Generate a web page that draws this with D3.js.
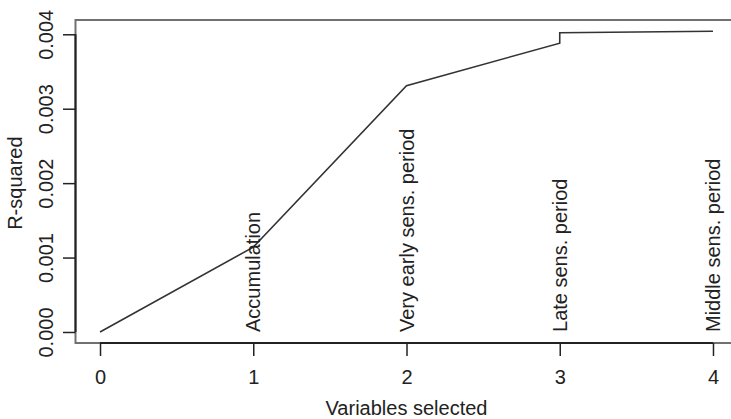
<!DOCTYPE html>
<html>
<head>
<meta charset="utf-8">
<script src="https://cdn.jsdelivr.net/npm/d3@7"></script>
<style>
  body { margin: 0; background: #fff; }
  text { font-family: "Liberation Sans", Arial, sans-serif; fill: #222; }
</style>
</head>
<body>
<div id="chart"></div>
<script>

// data
const varsSelected = [0, 1, 2, 3, 3, 4];
const rSquared = [0, 0.00114, 0.00331, 0.00388, 0.00402, 0.00404];

const stepNames = ["Accumulation", "Very early sens. period", "Late sens. period", "Middle sens. period"];
const stepX = [1, 2, 3, 4];

const xTicks = [0, 1, 2, 3, 4];
const yTicks = [0, 0.001, 0.002, 0.003, 0.004];

let W = 731, H = 419;
let margin = { top: 20, right: -6.5, bottom: 76, left: 75.5 },
  width = W - margin.left - margin.right,
  height = H - margin.top - margin.bottom;

let svg = d3.select("#chart")
  .append("svg")
  .attr("width", W)
  .attr("height", H)
  .append("g")
  .attr("transform", "translate(" + margin.left + "," + margin.top + ")");

// R style: 4% padding around the data range
let x = d3.scaleLinear()
  .domain([-0.16, 4.16])
  .range([0, width]);

let y = d3.scaleLinear()
  .domain([-0.000148, 0.004192])
  .range([height, 0]);

// plot box
svg.append("rect")
  .attr("x", 0)
  .attr("y", 0)
  .attr("width", width)
  .attr("height", height)
  .style("fill", "none")
  .style("stroke", "#707070")
  .style("stroke-width", 2);

// Axes

let xAxis = svg.append("g")
  .attr("transform", "translate(0," + height + ")")
  .call(d3.axisBottom(x).tickValues(xTicks).tickFormat(d3.format("d"))
    .tickSize(13).tickSizeOuter(0).tickPadding(14));
xAxis.select(".domain").remove();
xAxis.selectAll(".tick line").attr("stroke", "#222").attr("stroke-width", 1.5);
xAxis.selectAll("text").style("font-size", "20px").attr("fill", "#222");

svg.append("line")
  .attr("x1", x(0)).attr("x2", x(4))
  .attr("y1", height).attr("y2", height)
  .attr("stroke", "#222")
  .attr("stroke-width", 2);

let yAxis = svg.append("g")
  .call(d3.axisLeft(y).tickValues(yTicks).tickFormat(d3.format(".3f"))
    .tickSize(12.5).tickSizeOuter(0));
yAxis.select(".domain").remove();
yAxis.selectAll(".tick line").attr("stroke", "#222").attr("stroke-width", 1.5);
yAxis.selectAll("text")
  .attr("transform", "rotate(-90)")
  .attr("x", 0)
  .attr("y", -22.5)
  .attr("dy", 0)
  .style("text-anchor", "middle")
  .style("font-size", "20px")
  .attr("fill", "#222");

svg.append("line")
  .attr("x1", 0).attr("x2", 0)
  .attr("y1", y(0)).attr("y2", y(0.004))
  .attr("stroke", "#222")
  .attr("stroke-width", 2);

// Line

svg.append("path")
  .datum(varsSelected.map((v, i) => ({ v: v, r: rSquared[i] })))
  .attr("d", d3.line()
    .x(d => x(d.v))
    .y(d => y(d.r)))
  .attr("stroke", "#333")
  .style("fill", "none")
  .style("stroke-width", 1.6);

// Step labels, vertical, starting at R-squared = 0

stepNames.forEach((name, i) => {
  svg.append("text")
    .attr("transform", "translate(" + x(stepX[i]) + "," + y(0) + ") rotate(-90)")
    .attr("dy", "0.36em")
    .style("text-anchor", "start")
    .style("font-size", "20px")
    .text(name);
});

// Axis titles

svg.append("text")
  .attr("x", x(2))
  .attr("y", H - margin.top - 4)
  .style("text-anchor", "middle")
  .style("font-size", "20px")
  .text("Variables selected");

svg.append("text")
  .attr("transform", "translate(" + (-margin.left + 22) + "," + y(0.002) + ") rotate(-90)")
  .style("text-anchor", "middle")
  .style("font-size", "20px")
  .text("R-squared");

</script>
</body>
</html>
